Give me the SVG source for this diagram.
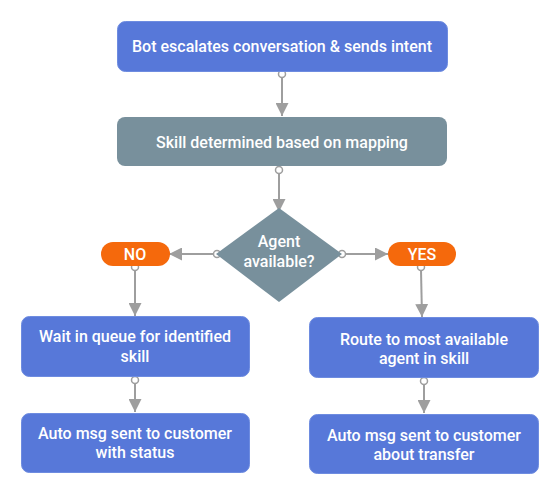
<svg xmlns="http://www.w3.org/2000/svg" width="557" height="488" viewBox="0 0 557 488">
<defs>
<style>
.blue{fill:#5778D9;stroke:#6E8CE0;stroke-width:1}
.grey{fill:#78909C}
.orange{fill:#F5690C}
.t{font-family:Roboto,"Liberation Sans",sans-serif;font-size:16px;font-weight:500;fill:#FFFFFF;text-anchor:middle;dominant-baseline:central}
.c{stroke:#9E9E9E;stroke-width:2;fill:none}
.dot{fill:#FFFFFF;stroke:#9E9E9E;stroke-width:1.5}
</style>
<marker id="ah" viewBox="0 0 10 10" refX="10" refY="5" markerWidth="6.5" markerHeight="6.5" markerUnits="strokeWidth" orient="auto">
<path d="M0,0 L10,5 L0,10 z" fill="#9E9E9E"/>
</marker>
</defs>
<rect width="557" height="488" fill="#FFFFFF"/>
<g id="connectors">
<line class="c" x1="282" y1="77" x2="282" y2="116" marker-end="url(#ah)"/>
<circle class="dot" cx="282" cy="74" r="3.5"/>
<line class="c" x1="279" y1="173" x2="279" y2="212" marker-end="url(#ah)"/>
<circle class="dot" cx="279" cy="170" r="3.5"/>
<line class="c" x1="214" y1="254" x2="169" y2="254" marker-end="url(#ah)"/>
<circle class="dot" cx="217" cy="254" r="3.5"/>
<line class="c" x1="345" y1="254" x2="388" y2="254" marker-end="url(#ah)"/>
<circle class="dot" cx="342" cy="254" r="3.5"/>
<line class="c" x1="135" y1="270" x2="135" y2="316" marker-end="url(#ah)"/>
<circle class="dot" cx="135" cy="267" r="3.5"/>
<line class="c" x1="421" y1="270" x2="422" y2="317" marker-end="url(#ah)"/>
<circle class="dot" cx="421" cy="267" r="3.5"/>
<line class="c" x1="135" y1="383" x2="135" y2="412" marker-end="url(#ah)"/>
<circle class="dot" cx="135" cy="380" r="3.5"/>
<line class="c" x1="424" y1="384" x2="424" y2="413" marker-end="url(#ah)"/>
<circle class="dot" cx="424" cy="381" r="3.5"/>
</g>
<g id="n1">
<rect class="blue" x="117.5" y="21.5" width="330" height="50" rx="8"/>
<text class="t" x="282" y="46">Bot escalates conversation &amp; sends intent</text>
</g>
<g id="n2">
<rect class="grey" x="117" y="117" width="330" height="49" rx="8"/>
<text class="t" x="282" y="142">Skill determined based on mapping</text>
</g>
<g id="n3">
<polygon class="grey" points="279,208 342,254 279,302 216,254"/>
<text class="t" x="279" y="241">Agent</text>
<text class="t" x="279" y="261">available?</text>
</g>
<g id="n4">
<rect class="orange" x="101" y="242" width="69" height="24" rx="12"/>
<text class="t" x="135" y="254">NO</text>
</g>
<g id="n5">
<rect class="orange" x="388" y="242" width="68" height="24" rx="12"/>
<text class="t" x="422" y="254">YES</text>
</g>
<g id="n6">
<rect class="blue" x="21.5" y="316.5" width="228" height="60" rx="8"/>
<text class="t" x="135" y="336">Wait in queue for identified</text>
<text class="t" x="135" y="356">skill</text>
</g>
<g id="n7">
<rect class="blue" x="21.5" y="413.5" width="228" height="59" rx="8"/>
<text class="t" x="135" y="433">Auto msg sent to customer</text>
<text class="t" x="135" y="452">with status</text>
</g>
<g id="n8">
<rect class="blue" x="309.5" y="317.5" width="229" height="60" rx="8"/>
<text class="t" x="424" y="339">Route to most available</text>
<text class="t" x="424" y="358">agent in skill</text>
</g>
<g id="n9">
<rect class="blue" x="309.5" y="414.5" width="229" height="59" rx="8"/>
<text class="t" x="424" y="435">Auto msg sent to customer</text>
<text class="t" x="424" y="454">about transfer</text>
</g>
</svg>
